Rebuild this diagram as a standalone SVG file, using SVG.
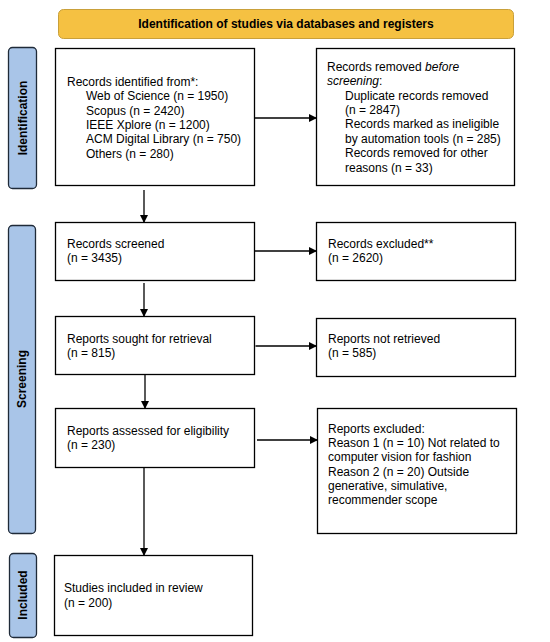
<svg xmlns="http://www.w3.org/2000/svg" width="550" height="642" viewBox="0 0 550 642">
<defs>
<marker id="ah" markerWidth="8" markerHeight="8" refX="7" refY="4" orient="auto" markerUnits="userSpaceOnUse">
<path d="M0,0 L8,4 L0,8 z" fill="#000"/>
</marker>
<style>
.box{fill:#fff;stroke:#000;stroke-width:1.3}
.side{fill:#a9c5e8;stroke:#1f2a38;stroke-width:1.3}
.t{font-family:"Liberation Sans",Arial,sans-serif;font-size:12px;fill:#000}
.b{font-family:"Liberation Sans",Arial,sans-serif;font-size:12px;font-weight:bold;fill:#000}
.c{stroke:#000;stroke-width:1.3;fill:none;marker-end:url(#ah)}
</style>
</defs>
<rect width="550" height="642" fill="#fff"/>
<g id="banner">
<rect x="58.5" y="9.5" width="455" height="29" rx="5" fill="#f5c142" stroke="#c9a03a" stroke-width="1"/>
<text class="b" x="286" y="28" text-anchor="middle">Identification of studies via databases and registers</text>
</g>
<g id="side-identification">
<rect class="side" x="8.5" y="47.5" width="28" height="141" rx="4"/>
<text class="b" transform="translate(26.5,118) rotate(-90)" text-anchor="middle">Identification</text>
</g>
<g id="side-screening">
<rect class="side" x="8.5" y="225.5" width="27" height="308" rx="4"/>
<text class="b" transform="translate(26,379) rotate(-90)" text-anchor="middle">Screening</text>
</g>
<g id="side-included">
<rect class="side" x="9.5" y="553.5" width="27" height="84" rx="4"/>
<text class="b" transform="translate(27,595) rotate(-90)" text-anchor="middle">Included</text>
</g>
<g id="records-identified">
<rect class="box" x="55.5" y="48.5" width="199" height="137"/>
<text class="t" x="67" y="86">Records identified from*:</text>
<text class="t" x="86" y="100">Web of Science (n = 1950)</text>
<text class="t" x="86" y="115">Scopus (n = 2420)</text>
<text class="t" x="86" y="129">IEEE Xplore (n = 1200)</text>
<text class="t" x="86" y="143">ACM Digital Library (n = 750)</text>
<text class="t" x="86" y="158">Others (n = 280)</text>
</g>
<g id="records-removed">
<rect class="box" x="316.5" y="48.5" width="198" height="137"/>
<text class="t" x="327" y="71">Records removed <tspan font-style="italic">before</tspan></text>
<text class="t" x="327" y="85"><tspan font-style="italic">screening</tspan>:</text>
<text class="t" x="345" y="100">Duplicate records removed</text>
<text class="t" x="345" y="114">(n = 2847)</text>
<text class="t" x="345" y="128">Records marked as ineligible</text>
<text class="t" x="345" y="143">by automation tools (n = 285)</text>
<text class="t" x="345" y="157">Records removed for other</text>
<text class="t" x="345" y="172">reasons (n = 33)</text>
</g>
<g id="records-screened">
<rect class="box" x="55.5" y="222.5" width="199" height="58"/>
<text class="t" x="67" y="248">Records screened</text>
<text class="t" x="67" y="262">(n = 3435)</text>
</g>
<g id="records-excluded">
<rect class="box" x="316.5" y="222.5" width="199" height="58"/>
<text class="t" x="328" y="248">Records excluded**</text>
<text class="t" x="328" y="262">(n = 2620)</text>
</g>
<g id="reports-sought">
<rect class="box" x="55.5" y="316.5" width="199" height="58"/>
<text class="t" x="67" y="343">Reports sought for retrieval</text>
<text class="t" x="67" y="357">(n = 815)</text>
</g>
<g id="reports-not-retrieved">
<rect class="box" x="316.5" y="318.5" width="199" height="58"/>
<text class="t" x="328" y="343">Reports not retrieved</text>
<text class="t" x="328" y="357">(n = 585)</text>
</g>
<g id="reports-assessed">
<rect class="box" x="55.5" y="408.5" width="199" height="59"/>
<text class="t" x="67" y="435">Reports assessed for eligibility</text>
<text class="t" x="67" y="449">(n = 230)</text>
</g>
<g id="reports-excluded">
<rect class="box" x="317.5" y="408.5" width="199" height="125"/>
<text class="t" x="328" y="433">Reports excluded:</text>
<text class="t" x="328" y="447">Reason 1 (n = 10) Not related to</text>
<text class="t" x="328" y="461">computer vision for fashion</text>
<text class="t" x="328" y="476">Reason 2 (n = 20) Outside</text>
<text class="t" x="328" y="490">generative, simulative,</text>
<text class="t" x="328" y="504">recommender scope</text>
</g>
<g id="studies-included">
<rect class="box" x="54.5" y="555.5" width="198" height="80"/>
<text class="t" x="64" y="592">Studies included in review</text>
<text class="t" x="64" y="607">(n = 200)</text>
</g>
<g id="connectors">
<line class="c" x1="254.5" y1="118" x2="316" y2="118"/>
<line class="c" x1="144" y1="190" x2="144" y2="222"/>
<line class="c" x1="254.5" y1="251" x2="316" y2="251"/>
<line class="c" x1="144" y1="283" x2="144" y2="316"/>
<line class="c" x1="255.5" y1="346" x2="316" y2="346"/>
<line class="c" x1="145" y1="375" x2="145" y2="408"/>
<line class="c" x1="257" y1="440" x2="317" y2="440"/>
<line class="c" x1="144" y1="468" x2="144" y2="555"/>
</g>
</svg>
